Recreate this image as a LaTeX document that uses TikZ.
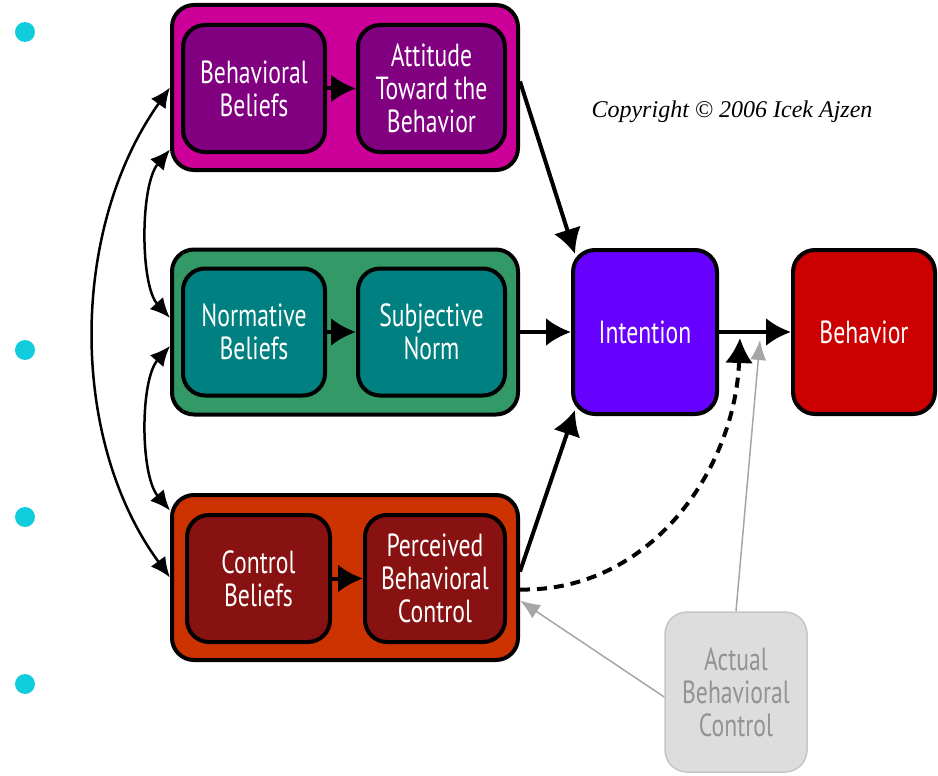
\documentclass[tikz,border=0pt]{standalone}
\usepackage{fontspec}
\usepackage{tikz}
\usetikzlibrary{arrows.meta}
\newfontfamily\boxfont[FakeStretch=0.74]{PT Sans}
\newfontfamily\copyfont{Liberation Serif}
\definecolor{magentabox}{HTML}{CC0099}
\definecolor{purplebox}{HTML}{800080}
\definecolor{greenbox}{HTML}{339966}
\definecolor{tealbox}{HTML}{008080}
\definecolor{orangebox}{HTML}{CC3300}
\definecolor{darkredbox}{HTML}{881111}
\definecolor{intentbox}{HTML}{6600FF}
\definecolor{behavbox}{HTML}{CC0000}
\definecolor{actualbox}{HTML}{DDDDDD}
\definecolor{bulletcol}{HTML}{11CCDD}
\begin{document}
\begin{tikzpicture}[x=1pt, y=-1pt,
  outerbox/.style={draw=black, line width=4pt, rounded corners=22pt, minimum width=346pt, minimum height=165pt},
  innerbox/.style={draw=black, line width=4pt, rounded corners=22pt, minimum width=142pt, minimum height=127pt,
    text=white, align=center, font=\boxfont\fontsize{32}{33}\selectfont},
  bigbox/.style={innerbox, minimum width=144pt, minimum height=164pt},
  arr/.style={-{Latex[length=25pt,width=28pt]}, line width=4pt},
  dbl/.style={{Latex[length=20pt,width=18pt]}-{Latex[length=20pt,width=18pt]}, line width=2.5pt},
  grayarr/.style={-{Latex[length=20pt,width=16pt]}, draw=gray!70, line width=1.5pt}]
\useasboundingbox[fill=white] (0,0) rectangle (938,776);
\fill[bulletcol] (25,32) circle (10);
\fill[bulletcol] (25,350) circle (10);
\fill[bulletcol] (25,517) circle (10);
\fill[bulletcol] (25,684) circle (10);
\node[outerbox, fill=magentabox] (top) at (345,87.5) {};
\node[innerbox, fill=purplebox] (bb) at (254,88.5) {Behavioral\\Beliefs};
\node[innerbox, fill=purplebox, minimum width=147pt] (att) at (431.5,88.5) {Attitude\\Toward the\\Behavior};
\node[outerbox, fill=greenbox] (mid) at (345,332) {};
\node[innerbox, fill=tealbox] (nb) at (254,332) {Normative\\Beliefs};
\node[innerbox, fill=tealbox, minimum width=147pt] (sn) at (431.5,332) {Subjective\\Norm};
\node[outerbox, fill=orangebox] (bot) at (345,577.5) {};
\node[innerbox, fill=darkredbox, minimum width=143pt] (cb) at (258.5,578.5) {Control\\Beliefs};
\node[innerbox, fill=darkredbox, minimum width=140pt] (pbc) at (435,578.5) {Perceived\\Behavioral\\Control};
\node[bigbox, fill=intentbox] (int) at (645,332) {Intention};
\node[bigbox, fill=behavbox, minimum width=142pt] (beh) at (864,332) {Behavior};
\node[bigbox, fill=actualbox, draw=gray!45, line width=1.5pt, text=gray!85, minimum width=142pt, minimum height=160pt] (act) at (736,692) {Actual\\Behavioral\\Control};
\node[font=\copyfont\itshape\fontsize{24}{28}\selectfont] (copy) at (732,112) {Copyright \textcopyright{} 2006 Icek Ajzen};
\coordinate (dashend) at (740,338);
\coordinate (grayend) at (760,340);
\draw[arr] (bb) -- (att);
\draw[arr] (nb) -- (sn);
\draw[arr] (cb) -- (pbc);
\draw[arr] ([yshift=6pt]top.east) -- ([shift={(4,6)}]int.north west);
\draw[arr] (mid.east) -- (int.west);
\draw[arr] ([yshift=6pt]bot.east) -- ([shift={(4,-6)}]int.south west);
\draw[arr] (int.east) -- (beh.west);
\draw[arr, dash pattern=on 10pt off 7pt] ([yshift=-12pt]bot.east) .. controls (650,592) and (735,470) .. (dashend);
\draw[grayarr] (act.north) -- (grayend);
\draw[grayarr] ([yshift=-5pt]act.west) -- ([yshift=-23pt]bot.east);
\draw[dbl] (top.west) .. controls (69,230) and (69,440) .. (bot.west);
\draw[dbl] ([yshift=-62pt]top.west) .. controls (140,185) and (140,285) .. ([yshift=14pt]mid.west);
\draw[dbl] ([yshift=-14pt]mid.west) .. controls (140,380) and (140,475) .. ([yshift=67pt]bot.west);
\end{tikzpicture}
\end{document}
